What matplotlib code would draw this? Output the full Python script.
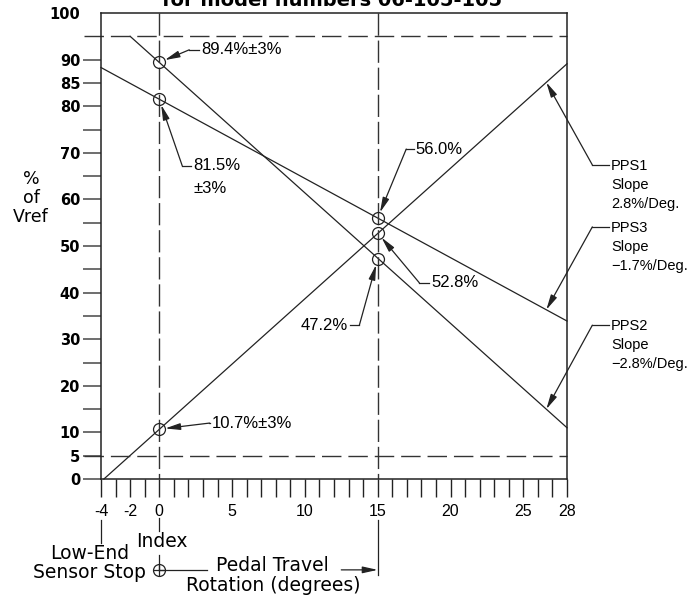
import numpy as np
from matplotlib import pyplot as plt

# sensor lines, endpoints (degrees, % of Vref)
pps1_x = [-3.8, 28]
pps1_y = [0.0, 89.1]
pps2_x = [-2.0, 28]
pps2_y = [95.0, 11.0]
pps3_x = [-4.0, 28]
pps3_y = [88.3, 33.9]

# checkpoints at index (0 deg) and 15 deg
check_x = [0, 0, 0, 15, 15, 15]
check_y = [89.4, 81.5, 10.7, 56.0, 52.8, 47.2]

limit_lines = [95, 5]
x_ticklabels = {-4: "-4", -2: "-2", 0: "0", 5: "5", 10: "10", 15: "15",
                20: "20", 25: "25", 28: "28"}
y_labelled = [0, 5, 10, 20, 30, 40, 50, 60, 70, 80, 85, 90, 100]

narrow = ["Liberation Sans", "DejaVu Sans"]
wide = "DejaVu Sans"

fig = plt.figure(figsize=(6.87, 5.95), dpi=100)
ax = fig.add_axes([101 / 687, 1 - 479 / 595, 466 / 687, 466 / 595])
ax.set_xlim(-4, 28)
ax.set_ylim(0, 100)

for s in ax.spines.values():
    s.set_linewidth(1.1)
    s.set_color("#222222")

lk = dict(color="#222222", lw=0.9, clip_on=False)
ax.plot(pps1_x, pps1_y, **lk)
ax.plot(pps2_x, pps2_y, **lk)
ax.plot(pps3_x, pps3_y, **lk)

for y in limit_lines:
    ax.plot([-5.2, 28], [y, y], color="#333333", lw=1.0,
            linestyle=(0, (14, 5)), clip_on=False)
ax.plot([0, 0], [100, 0], color="#333333", lw=1.0, linestyle=(0, (16, 3.5)))
ax.plot([15, 15], [100, 0], color="#333333", lw=1.0, linestyle=(0, (16, 3.5)))

ax.plot(check_x, check_y, "o", ms=8.6, mfc="none", mec="#222222", mew=0.9,
        zorder=5)

# ticks
ax.set_xticks(range(-4, 29))
ax.set_xticklabels([x_ticklabels.get(v, "") for v in range(-4, 29)],
                   family=narrow, fontsize=11.5)
ax.set_yticks(y_labelled)
ax.set_yticklabels([str(v) for v in y_labelled], family=wide,
                   fontweight="bold", fontsize=10.5)
ax.set_yticks([15, 25, 35, 45, 55, 65, 75], minor=True)
ax.tick_params(axis="x", direction="out", length=13, width=1.0, pad=5,
               color="#222222")
ax.tick_params(axis="y", which="both", direction="out", length=13, width=1.2,
               pad=2, color="#555555")
ax.yaxis.get_major_ticks()[-1].tick1line.set_visible(False)

ak = dict(arrowstyle="-|>,head_length=0.9,head_width=0.2", color="#222222",
          lw=0.9, shrinkA=0, mutation_scale=10)


def callout(text, tip, elbow, text_x, ha="left", shrink=4.3, dy=0, size=12,
            ls=1.2):
    ax.annotate("", xy=tip, xytext=elbow,
                arrowprops=dict(ak, shrinkB=shrink), annotation_clip=False)
    ax.plot([elbow[0], text_x], [elbow[1], elbow[1]], **lk)
    ax.text(text_x + (0.12 if ha == "left" else -0.12), elbow[1] + dy, text,
            ha=ha, va="center", family=narrow, fontsize=size, linespacing=ls,
            clip_on=False)


callout("89.4%±3%", (0, 89.4), (2.06, 92.1), 2.75)
callout("81.5%", (0, 81.5), (1.58, 67.2), 2.2)
ax.text(2.32, 62.4, "±3%", ha="left", va="center", family=narrow, fontsize=12)
callout("10.7%±3%", (0, 10.7), (3.45, 12.0), 3.5)
callout("56.0%", (15, 56.0), (16.96, 70.8), 17.5)
callout("52.8%", (15, 52.8), (17.86, 42.1), 18.55)
callout("47.2%", (15, 47.2), (13.74, 33.0), 13.1, ha="right")

tip_x = 26.58
pps = dict(shrink=0, dy=-4.3, size=10.5, ls=1.45)
callout("PPS1\nSlope\n2.8%/Deg.", (tip_x, np.interp(tip_x, pps1_x, pps1_y)),
        (29.74, 67.4), 30.9, **pps)
callout("PPS3\nSlope\n\u22121.7%/Deg.", (tip_x, np.interp(tip_x, pps3_x, pps3_y)),
        (29.74, 54.1), 30.9, **pps)
callout("PPS2\nSlope\n\u22122.8%/Deg.", (tip_x, np.interp(tip_x, pps2_x, pps2_y)),
        (29.74, 33.0), 30.9, **pps)

# y axis caption
ax.text(-8.8, 60.3, "%\nof\nVref", ha="center", va="center", family=wide,
        fontsize=12.5, linespacing=1.05, clip_on=False)

# stuff under the axis
ax.plot([-4, -4], [-8.8, -13.7], **lk)
ax.text(-4.8, -18.0, "Low-End\nSensor Stop", ha="center", va="center",
        family=wide, fontsize=13.5, linespacing=1.0, clip_on=False)
ax.plot([0, 0], [-8.4, -11.2], **lk)
ax.text(0.2, -13.5, "Index", ha="center", va="center", family=wide,
        fontsize=13.5, clip_on=False)
ax.plot([0, 0], [-16.3, -19.5], **lk)
ax.plot([0], [-19.5], "o", ms=8.6, mfc="none", mec="#222222", mew=0.9,
        clip_on=False)
ax.plot([0], [-19.5], "+", ms=8.6, mec="#222222", mew=0.9, clip_on=False)
ax.plot([0, 3.3], [-19.5, -19.5], **lk)
ax.text(7.8, -18.6, "Pedal Travel", ha="center", va="center", family=wide,
        fontsize=13.5, clip_on=False)
ax.text(7.8, -22.9, "Rotation (degrees)", ha="center", va="center",
        family=wide, fontsize=13.5, clip_on=False)
ax.annotate("", xy=(15, -19.5), xytext=(12.5, -19.5),
            arrowprops=dict(ak, shrinkB=0), annotation_clip=False)
ax.plot([15, 15], [-8.8, -20.6], **lk)

fig.text(332 / 687, 1 - 6 / 595, "for model numbers 06-105-105", ha="center",
         va="baseline", family=wide, fontweight="bold", fontsize=14)

fig.savefig("out.png", dpi=100)
